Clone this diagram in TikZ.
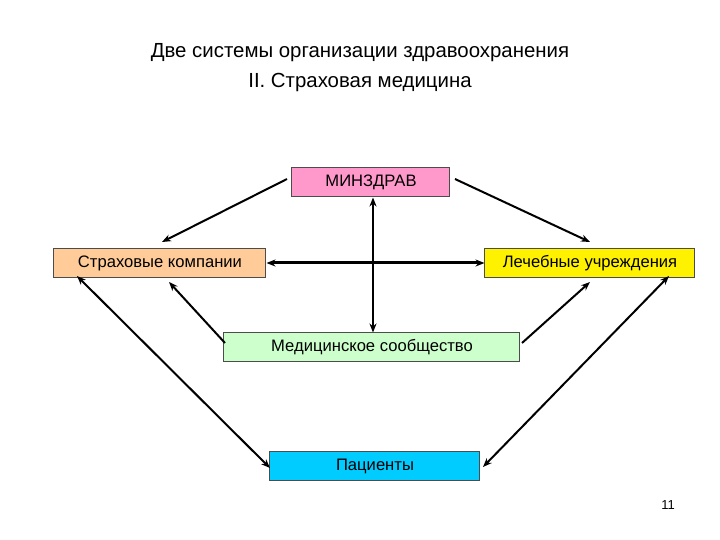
\documentclass[tikz,border=0pt]{standalone}
\usepackage{fontspec}
\setmainfont{Liberation Sans}
\usetikzlibrary{arrows.meta}
\begin{document}
\begin{tikzpicture}[x=0.5pt,y=-0.5pt,
  box/.style={draw=black!70,line width=0.5pt,minimum height=14.5pt,inner sep=0pt,font=\fontsize{8.3}{9}\selectfont},
  con/.style={line width=1pt,-{Stealth[length=4.5pt,width=3.5pt]}},
  bi/.style={line width=1pt,{Stealth[length=4.5pt,width=3.5pt]}-{Stealth[length=4.5pt,width=3.5pt]}}]
\useasboundingbox (0,0) rectangle (720,540);
\node[font=\fontsize{10.2}{15}\selectfont,align=center] (title) at (360,68) {Две системы организации здравоохранения\\II. Страховая медицина};
\node[box,fill={rgb,255:red,255;green,153;blue,204},minimum width=79pt] (mz) at (371,182.5) {МИНЗДРАВ};
\node[box,fill={rgb,255:red,255;green,204;blue,153},minimum width=106pt] (sk) at (160,263) {Страховые компании};
\node[box,fill=yellow,minimum width=105pt] (lu) at (590,263) {Лечебные учреждения};
\node[box,fill={rgb,255:red,204;green,255;blue,204},minimum width=148pt] (ms) at (372,347.5) {Медицинское сообщество};
\node[box,fill={rgb,255:red,0;green,204;blue,255},minimum width=105pt] (pt) at (375,466) {Пациенты};
\node[font=\fontsize{6.5}{8}\selectfont] (num) at (668,505) {11};
\coordinate (a1) at (287,179); \coordinate (a2) at (162,242);
\coordinate (b1) at (455,179); \coordinate (b2) at (590,242);
\coordinate (c1) at (225,343); \coordinate (c2) at (169,282);
\coordinate (d1) at (522,343); \coordinate (d2) at (590,282);
\coordinate (e1) at (77,276); \coordinate (e2) at (270,468);
\coordinate (f1) at (669,276); \coordinate (f2) at (483,467);
\draw[con] (a1) -- (a2);
\draw[con] (b1) -- (b2);
\draw[bi] (mz.south -| 373,0) -- (ms.north -| 373,0);
\draw[bi,line width=1.5pt] (sk.east) -- (lu.west);
\draw[con] (c1) -- (c2);
\draw[con] (d1) -- (d2);
\draw[bi] (e1) -- (e2);
\draw[bi] (f1) -- (f2);
\end{tikzpicture}
\end{document}
